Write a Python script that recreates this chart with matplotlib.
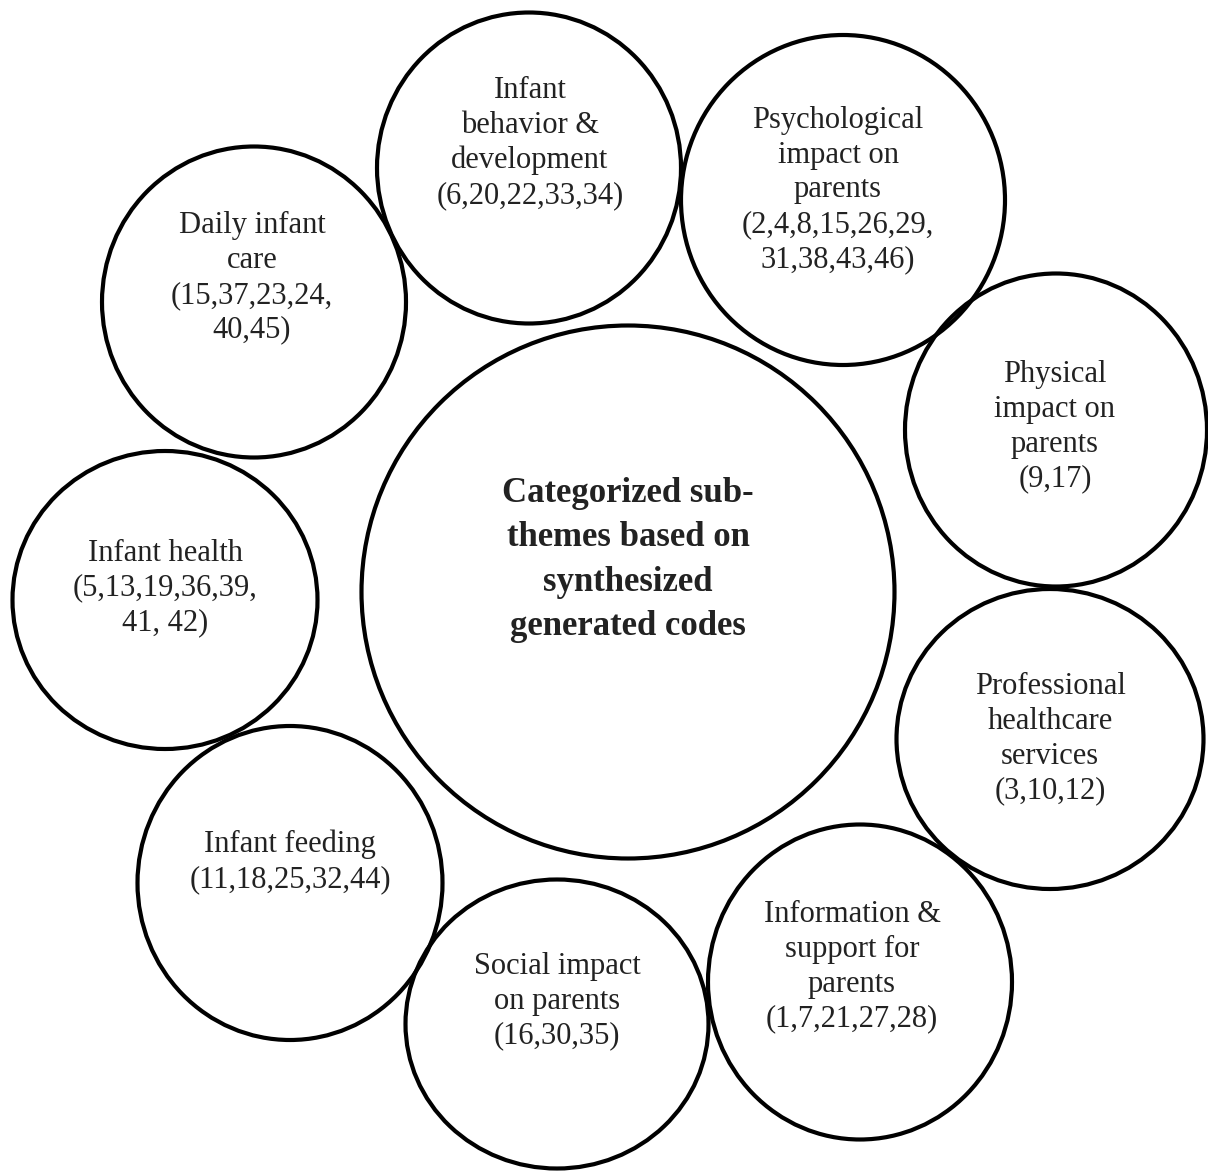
import matplotlib
matplotlib.use("Agg")
import matplotlib.pyplot as plt
from matplotlib.patches import Ellipse

plt.rcParams['font.family'] = ['Liberation Serif', 'DejaVu Serif']

# Data: sub-theme labels and their code lists
center_label = "Categorized sub-\nthemes based on\nsynthesized\ngenerated codes"
themes = [
    "Infant\nbehavior &\ndevelopment",
    "Psychological\nimpact on\nparents",
    "Physical\nimpact on\nparents",
    "Professional\nhealthcare\nservices",
    "Information &\nsupport for\nparents",
    "Social impact\non parents",
    "Infant feeding",
    "Infant health",
    "Daily infant\ncare",
]
codes = [
    "(6,20,22,33,34)",
    "(2,4,8,15,26,29,\n31,38,43,46)",
    "(9,17)",
    "(3,10,12)",
    "(1,7,21,27,28)",
    "(16,30,35)",
    "(11,18,25,32,44)",
    "(5,13,19,36,39,\n41, 42)",
    "(15,37,23,24,\n40,45)",
]

# Layout (pixel coordinates): circle centres, widths/heights, text centres
center_shape = (628, 592, 533, 533)
center_text_y = 560
circle_x = [529, 843, 1056, 1050, 860, 557, 290, 165, 254]
circle_y = [168, 200, 430, 739, 982, 1024, 883, 600, 302]
circle_w = [304, 324, 302, 307, 304, 303, 305, 305, 304]
circle_h = [311, 330, 313, 300, 315, 289, 314, 298, 311]
text_x = [530, 838, 1055, 1050, 852, 557, 290, 165, 252]
text_y = [143, 190, 427, 739, 967, 1001, 862, 588, 278]

W, H = 1208, 1171
fig = plt.figure(figsize=(W / 100, H / 100), dpi=100)
ax = fig.add_axes([0, 0, 1, 1])
ax.set_xlim(0, W)
ax.set_ylim(H, 0)
ax.set_aspect('equal')
ax.axis('off')

lw = 3.0
ec = "black"
cx, cy, cw, ch = center_shape
ax.add_patch(Ellipse((cx, cy), cw, ch, fill=False, ec=ec, lw=lw))
ax.text(cx, center_text_y, center_label, ha='center', va='center',
        fontsize=25, fontweight='bold', color='#222222', linespacing=1.45)

for lab, cod, x, y, w, h, tx, ty in zip(themes, codes, circle_x, circle_y,
                                         circle_w, circle_h, text_x, text_y):
    ax.add_patch(Ellipse((x, y), w, h, fill=False, ec=ec, lw=lw))
    ax.text(tx, ty, lab + "\n" + cod, ha='center', va='center',
            fontsize=22, color='#222222', linespacing=1.26)

fig.savefig("out.png", dpi=100, facecolor='white')
